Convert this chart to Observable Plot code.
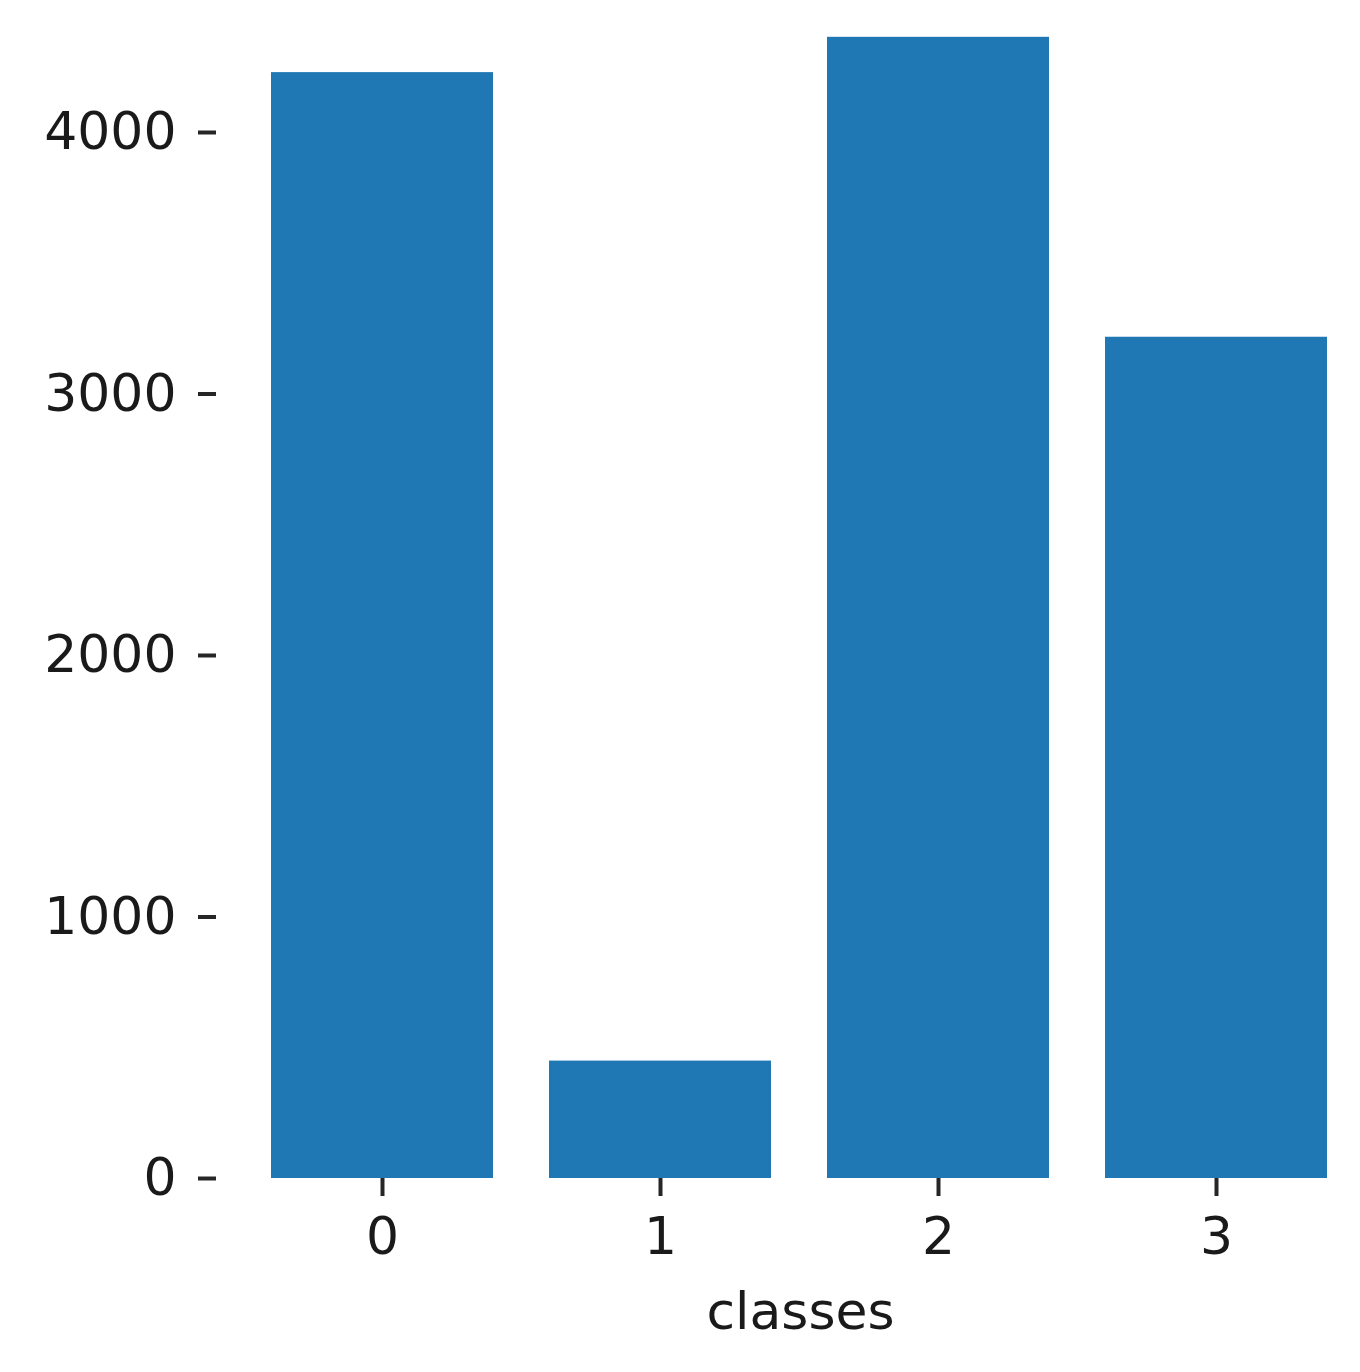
<!DOCTYPE html>
<html>
<head>
<meta charset="utf-8">
<script src="https://cdn.jsdelivr.net/npm/d3@7"></script>
<script src="https://cdn.jsdelivr.net/npm/@observablehq/plot@0.6"></script>
<style>
  html, body { margin: 0; padding: 0; background: #fff; }
  #chart svg { display: block; }
</style>
</head>
<body>
<div id="chart"></div>
<script>
const classes = ["0", "1", "2", "3"];
const counts = [4229, 449, 4364, 3217];
const yTicks = [0, 1000, 2000, 3000, 4000];
const xLabel = "classes";

const data = classes.map((c, i) => ({cls: c, count: counts[i]}));

const chart = Plot.plot({
  width: 1360,
  height: 1372,
  marginLeft: 216,
  marginRight: -24,
  marginTop: 0,
  marginBottom: 194,
  style: {fontFamily: "'DejaVu Sans', sans-serif", fontSize: "52px", color: "#1a1a1a", background: "#fff", overflow: "visible"},
  x: {domain: classes, range: [213.2, 1384.2], padding: 0.2, align: 0.5},
  y: {domain: [0, 4000], range: [1178, 132]},
  marks: [
    Plot.rectY(data, {x: "cls", y: "count", fill: "#1f77b4"}),
    Plot.axisY({ticks: yTicks, tickFormat: d3.format("d"), tickSize: 18, tickPadding: 22, strokeWidth: 4, stroke: "#262626", fill: "#1a1a1a", label: null}),
    Plot.axisX({tickSize: 18, tickPadding: 21, strokeWidth: 4, stroke: "#262626", fill: "#1a1a1a", label: xLabel, labelAnchor: "center", labelArrow: "none", labelOffset: 150})
  ]
});
document.getElementById("chart").appendChild(chart);
</script>
</body>
</html>
